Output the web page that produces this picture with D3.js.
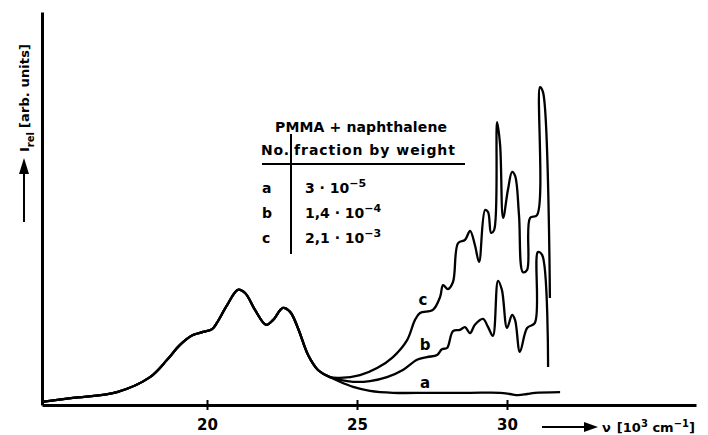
<!DOCTYPE html>
<html>
<head>
<meta charset="utf-8">
<script src="https://cdn.jsdelivr.net/npm/d3@7"></script>
<style>
  body { margin: 0; background: #fff; }
  text { font-family: "DejaVu Sans", sans-serif; font-weight: bold; fill: #000; }
</style>
</head>
<body>
<div id="chart"></div>
<script>
// wavenumber in 10^3 cm^-1, intensity in arb. units (0..100)
var bandNu = [14.5, 15.53, 17.0, 18.1, 18.67, 19.1, 19.53, 19.87, 20.17, 20.33, 20.67, 21.03, 21.27, 21.6, 21.97, 22.2, 22.53, 22.77, 23.03, 23.37, 23.7, 24.1];
var bandI  = [0.8, 1.8, 3.3, 7.1, 11.5, 15.3, 17.8, 18.6, 19.3, 20.9, 25.4, 29.3, 28.5, 24.2, 20.4, 21.6, 24.7, 23.7, 19.6, 12.7, 8.9, 7.1];

var aNu = [24.43, 24.87, 25.43, 26.2, 27.43, 28.77, 29.77, 30.1, 30.37, 30.67, 30.93, 31.77];
var aI  = [5.9, 4.6, 3.6, 3.1, 3.1, 3.1, 3.1, 2.8, 2.5, 2.8, 3.1, 3.3];

var bNu = [24.43, 24.87, 25.43, 26.0, 26.53, 27.0, 27.33, 27.67, 27.83, 28.0, 28.2, 28.43, 28.6, 28.77, 28.93, 29.2, 29.37, 29.53, 29.7, 29.83, 30.0, 30.17, 30.27, 30.43, 30.67, 30.93, 31.03, 31.17, 31.37];
var bI  = [6.4, 5.9, 6.1, 7.1, 8.9, 11.5, 12.2, 12.7, 14.2, 14.5, 18.8, 19.1, 19.8, 18.3, 20.4, 21.9, 19.8, 17.6, 31.6, 29.3, 19.6, 22.9, 21.6, 13.5, 19.6, 20.9, 38.9, 38.2, 9.7];

var cNu = [24.43, 25.1, 25.67, 26.2, 26.67, 26.93, 27.1, 27.53, 27.77, 27.87, 28.03, 28.2, 28.37, 28.6, 28.77, 28.93, 29.07, 29.27, 29.37, 29.47, 29.57, 29.67, 29.77, 29.87, 30.03, 30.17, 30.27, 30.4, 30.53, 30.67, 30.77, 31.0, 31.1, 31.2, 31.43];
var cI  = [6.9, 7.6, 9.4, 12.2, 16.5, 21.6, 23.4, 24.2, 27.5, 30.5, 29.5, 31.3, 41.2, 42.0, 44.3, 40.7, 36.4, 49.6, 49.1, 43.8, 44.5, 72.0, 66.2, 47.6, 54.7, 59.3, 58.3, 48.3, 33.8, 34.4, 47.6, 48.3, 80.9, 79.6, 27.2];

var xTicks = [20, 25, 30];

var legendRows = [
  { no: "a", mant: "3", exp: "−5" },
  { no: "b", mant: "1,4", exp: "−4" },
  { no: "c", mant: "2,1", exp: "−3" }
];

var svgWidth = 708;
var svgHeight = 435;

var svg = d3.select("#chart")
  .append("svg")
  .attr("width", svgWidth)
  .attr("height", svgHeight);

var x = d3.scaleLinear().domain([14.5, 36.3]).range([42, 696]);
var y = d3.scaleLinear().domain([0, 100]).range([405, 12]);

function series(nu, val) {
  var pts = bandNu.map((n, i) => [n, bandI[i]]);
  return pts.concat(nu.map((n, i) => [n, val[i]]));
}

var line = d3.line()
  .x(d => x(d[0]))
  .y(d => y(d[1]))
  .curve(d3.curveCatmullRom.alpha(0.5));

[series(aNu, aI), series(bNu, bI), series(cNu, cI)].forEach(function(s) {
  svg.append("path")
    .datum(s)
    .attr("d", line)
    .attr("fill", "none")
    .attr("stroke", "#000")
    .attr("stroke-width", 2.3)
    .attr("stroke-linejoin", "round");
});

// axes
var xAxis = svg.append("g")
  .attr("transform", "translate(0,405)")
  .call(d3.axisBottom(x).tickValues(xTicks).tickSizeInner(5).tickSizeOuter(0).tickPadding(9));
xAxis.select(".domain").attr("stroke-width", 3);
xAxis.selectAll(".tick line").attr("y1", -5).attr("stroke-width", 2);
xAxis.selectAll(".tick text").style("font-size", "15px");

var yAxis = svg.append("g")
  .attr("transform", "translate(42,0)")
  .call(d3.axisLeft(y).tickValues([]).tickSizeOuter(0));
yAxis.select(".domain").attr("stroke-width", 3);

// curve labels
var curveLabels = [["c", 423, 305], ["b", 425, 350], ["a", 425, 388]];
svg.selectAll(".clabel")
  .data(curveLabels)
  .enter()
  .append("text")
  .attr("x", d => d[1])
  .attr("y", d => d[2])
  .attr("text-anchor", "middle")
  .style("font-size", "15px")
  .text(d => d[0]);

// legend table
var leg = svg.append("g");
leg.append("text").attr("x", 275).attr("y", 132).attr("textLength", 172)
  .style("font-size", "14px").text("PMMA + naphthalene");
leg.append("text").attr("x", 261).attr("y", 155).attr("textLength", 28)
  .style("font-size", "14px").text("No.");
leg.append("text").attr("x", 294).attr("y", 155).attr("textLength", 161)
  .style("font-size", "14px").text("fraction by weight");
leg.append("line").attr("x1", 262).attr("x2", 465).attr("y1", 164).attr("y2", 164)
  .attr("stroke", "#000").attr("stroke-width", 2);
leg.append("line").attr("x1", 291).attr("x2", 291).attr("y1", 134).attr("y2", 254)
  .attr("stroke", "#000").attr("stroke-width", 2);

legendRows.forEach(function(r, i) {
  var by = 193 + i * 25;
  leg.append("text").attr("x", 262).attr("y", by).style("font-size", "14px").text(r.no);
  var t = leg.append("text").attr("x", 305).attr("y", by).style("font-size", "14px");
  t.append("tspan").text(r.mant + " · 10");
  t.append("tspan").attr("dy", -6).style("font-size", "11px").text(r.exp);
});

// y label
var yl = svg.append("g").attr("transform", "translate(24,222) rotate(-90)");
yl.append("line").attr("x1", 0).attr("x2", 52).attr("y1", 0).attr("y2", 0)
  .attr("stroke", "#000").attr("stroke-width", 2);
yl.append("path").attr("d", "M48,-5 L64,0 L48,5 Z").attr("fill", "#000");
var ylt = yl.append("text").attr("x", 70).attr("y", 5).style("font-size", "13px");
ylt.append("tspan").text("I");
ylt.append("tspan").attr("dy", 5).style("font-size", "10px").text("rel");
ylt.append("tspan").attr("dy", -5).attr("dx", 4).attr("textLength", 84).text("[arb. units]");

// x label
var xl = svg.append("g").attr("transform", "translate(542,427)");
xl.append("line").attr("x1", 0).attr("x2", 45).attr("y1", 0).attr("y2", 0)
  .attr("stroke", "#000").attr("stroke-width", 2);
xl.append("path").attr("d", "M42,-5 L56,0 L42,5 Z").attr("fill", "#000");
var xlt = xl.append("text").attr("x", 60).attr("y", 5).style("font-size", "13px");
xlt.append("tspan").text("ν");
xlt.append("tspan").attr("dx", 6).text("[10");
xlt.append("tspan").attr("dy", -5).style("font-size", "10px").text("3");
xlt.append("tspan").attr("dy", 5).text(" cm");
xlt.append("tspan").attr("dy", -5).style("font-size", "10px").text("−1");
xlt.append("tspan").attr("dy", 5).text("]");
</script>
</body>
</html>
